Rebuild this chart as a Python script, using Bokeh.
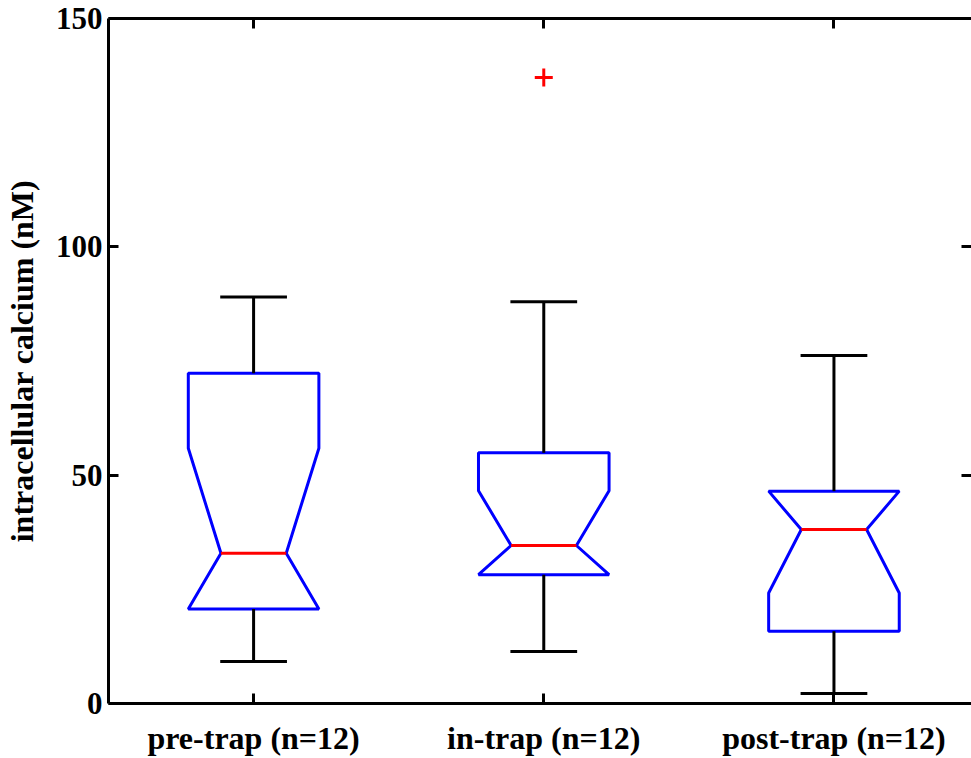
from bokeh.plotting import figure
from bokeh.models import (LinearAxis, FixedTicker, Range1d, CustomJSTickFormatter)
from bokeh.embed import file_html
from bokeh.resources import INLINE

# Notched box-plot statistics, one entry per trap phase
groups = ["pre-trap (n=12)", "in-trap (n=12)", "post-trap (n=12)"]
positions = [1, 2, 3]
q1 = [20.7, 28.2, 15.8]
median = [32.9, 34.6, 38.1]
q3 = [72.3, 54.9, 46.5]
whisker_lo = [9.2, 11.4, 2.2]
whisker_hi = [89.0, 88.0, 76.2]
notch_lo = [9.9, 22.6, 24.2]
notch_hi = [55.9, 46.6, 52.0]
outlier_pos = [2]
outlier_val = [137.1]

y_ticks = [0, 50, 100, 150]

BOX_HALF = 0.225
NOTCH_HALF = 0.1125
CAP_HALF = 0.115
FONT = "Liberation Serif"

p = figure(width=971, height=758, x_range=Range1d(0.5, 3.474),
           y_range=Range1d(0, 150), output_backend="svg",
           toolbar_location=None, min_border_left=108, min_border_right=0,
           min_border_top=18, min_border_bottom=55)
p.xgrid.visible = False
p.ygrid.visible = False
p.outline_line_color = None
p.background_fill_color = "white"
p.border_fill_color = "white"


def style_axis(ax, ticks, size="31px", labelled=True):
    ax.ticker = FixedTicker(ticks=ticks)
    ax.axis_line_width = 3
    ax.axis_line_color = "black"
    ax.major_tick_in = 10
    ax.major_tick_out = 0
    ax.major_tick_line_width = 3
    ax.minor_tick_line_color = None
    ax.major_label_text_font = FONT
    ax.major_label_text_font_style = "bold"
    ax.major_label_text_color = "black"
    ax.major_label_text_font_size = size
    if not labelled:
        ax.formatter = CustomJSTickFormatter(code="return ''")
        ax.major_label_text_font_size = "0px"
        ax.major_label_standoff = 0


left = p.yaxis[0]
style_axis(left, y_ticks, "31px")
left.major_label_standoff = 6
left.axis_label = "intracellular calcium (nM)"
left.axis_label_text_font = FONT
left.axis_label_text_font_style = "bold"
left.axis_label_text_font_size = "32px"
left.axis_label_text_color = "black"
left.axis_label_standoff = 13

bottom = p.xaxis[0]
style_axis(bottom, positions, "32px")
bottom.major_label_overrides = {pos: g for pos, g in zip(positions, groups)}
bottom.major_label_standoff = 16

top = LinearAxis()
style_axis(top, positions, labelled=False)
p.add_layout(top, "above")

right = LinearAxis()
style_axis(right, y_ticks, labelled=False)
right.axis_line_color = None
p.add_layout(right, "right")

# Box outlines with notches clamped to the quartiles
xs, ys = [], []
for c, a, m, b, nl, nh in zip(positions, q1, median, q3, notch_lo, notch_hi):
    lo = max(nl, a)
    hi = min(nh, b)
    xs.append([c - BOX_HALF, c + BOX_HALF, c + BOX_HALF, c + NOTCH_HALF,
               c + BOX_HALF, c + BOX_HALF, c - BOX_HALF, c - BOX_HALF,
               c - NOTCH_HALF, c - BOX_HALF, c - BOX_HALF])
    ys.append([a, a, lo, m, hi, b, b, hi, m, lo, a])
p.patches(xs, ys, fill_color=None, line_color="#0000ff", line_width=3)

# Whiskers and caps
wx, wy = [], []
for c, a, b, lo, hi in zip(positions, q1, q3, whisker_lo, whisker_hi):
    wx += [[c, c], [c, c], [c - CAP_HALF, c + CAP_HALF], [c - CAP_HALF, c + CAP_HALF]]
    wy += [[b, hi], [a, lo], [hi, hi], [lo, lo]]
p.multi_line(wx, wy, line_color="black", line_width=3)

# Medians
p.segment(x0=[c - NOTCH_HALF for c in positions], y0=median,
          x1=[c + NOTCH_HALF for c in positions], y1=median,
          line_color="#ff0000", line_width=3)

# Outliers
p.scatter(outlier_pos, outlier_val, marker="cross", size=18,
          line_color="#ff0000", line_width=3)

open("out.html", "w").write(file_html(p, INLINE))
